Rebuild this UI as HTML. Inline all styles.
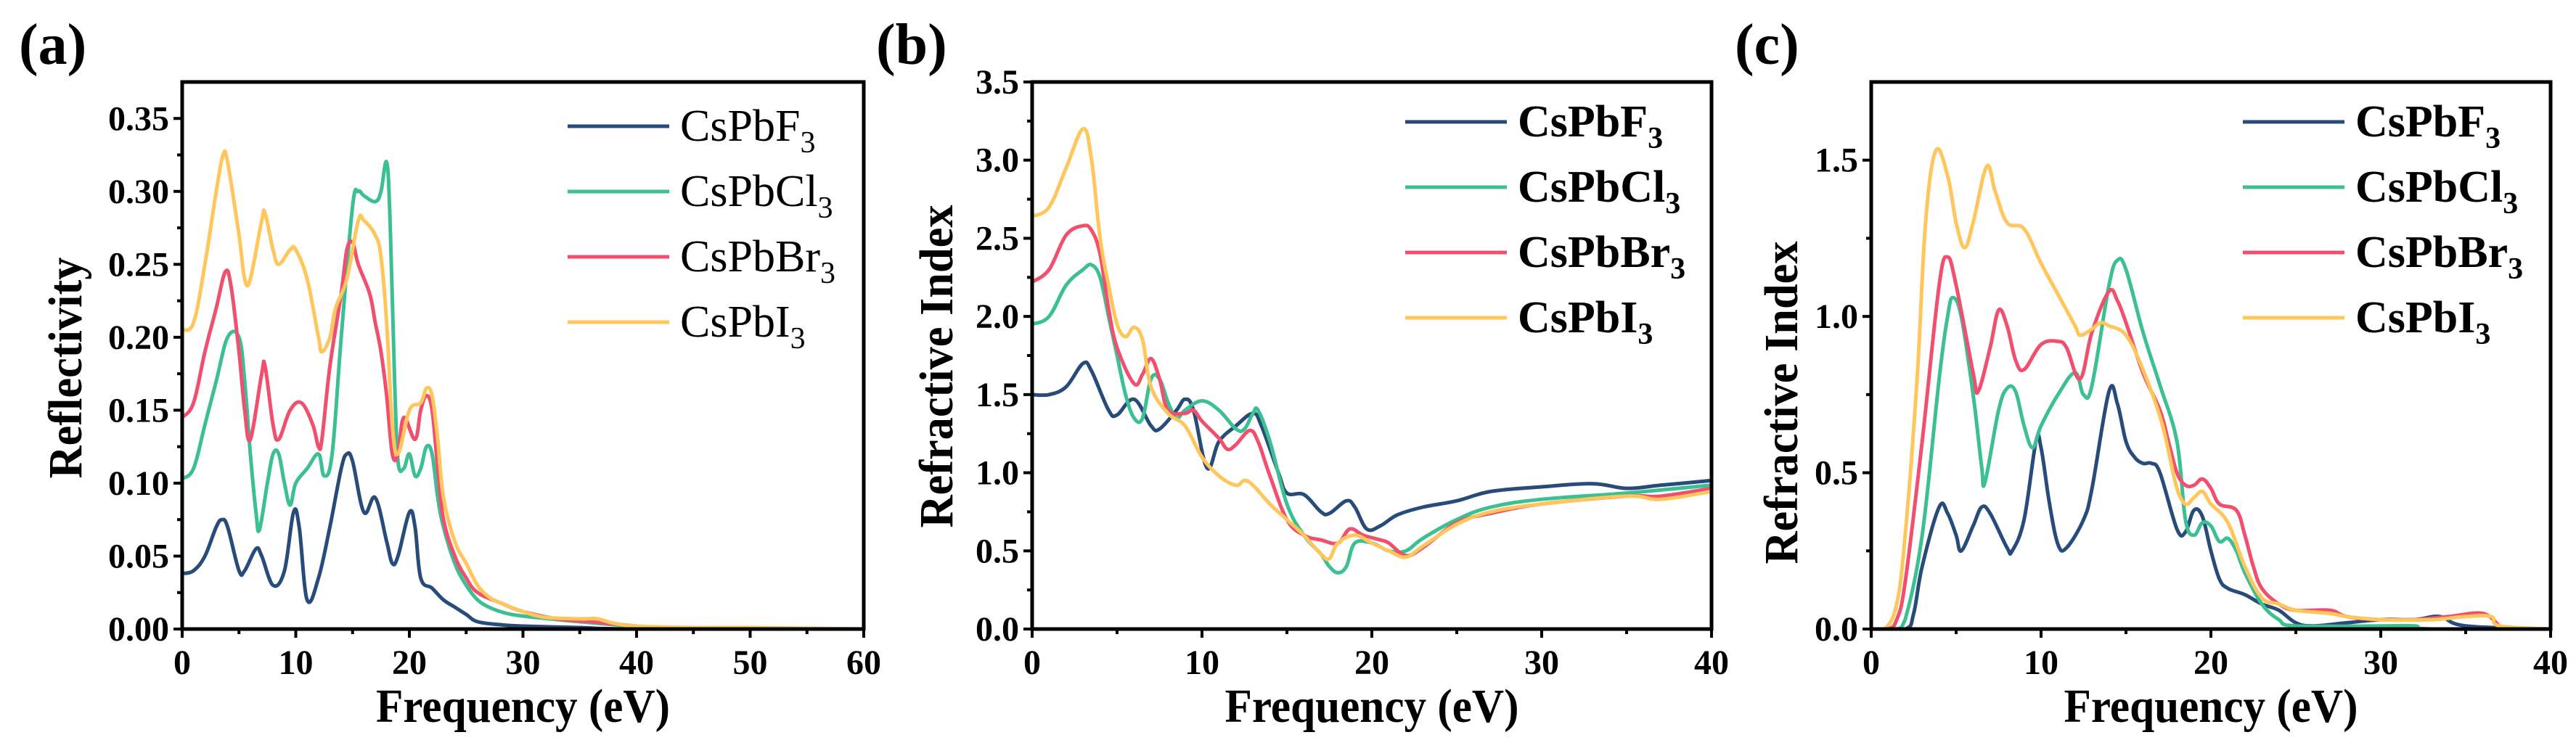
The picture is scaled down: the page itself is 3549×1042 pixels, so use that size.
<!DOCTYPE html>
<html><head><meta charset="utf-8">
<style>
html,body{margin:0;padding:0;background:#fff;overflow:hidden;}
svg{display:block;font-family:"Liberation Serif",serif;}
</style></head>
<body>
<svg id="fig" width="3549" height="1042" viewBox="0 0 3549 1042"></svg>
<script>
const names = ["CsPbF","CsPbCl","CsPbBr","CsPbI"];
const colors = ["#284c7a","#3dbf94","#f0506e","#ffc65c"];

const aX_F=[0,1,2,3,3.5,4,5,5.5,6.5,7,8,9,9.8,10.3,11,12,13,14,14.5,15,16,17,18,18.5,19,20,20.5,21,22,23,24,25,26,28,30,35,40,60];
const aY_F=[0.038,0.04,0.05,0.07,0.075,0.07,0.04,0.04,0.055,0.05,0.03,0.04,0.08,0.07,0.02,0.035,0.07,0.11,0.12,0.115,0.08,0.09,0.06,0.045,0.05,0.08,0.07,0.035,0.028,0.02,0.015,0.01,0.005,0.003,0.002,0.001,0,0];
const aX_Cl=[0,1,2,3,4,5,5.5,6,6.5,6.8,7.5,8,8.5,9,9.5,10,11,12,12.5,13.2,14,15,15.5,16,17,17.5,18,18.3,18.7,19,19.5,20,20.5,21,21.5,22,22.5,23,24,25,26,27,28,29,31,35,38,42,60];
const aY_Cl=[0.103,0.11,0.14,0.17,0.2,0.2,0.17,0.12,0.08,0.068,0.1,0.12,0.12,0.1,0.085,0.1,0.11,0.12,0.105,0.12,0.2,0.29,0.3,0.297,0.293,0.3,0.32,0.28,0.17,0.115,0.11,0.12,0.105,0.11,0.125,0.12,0.09,0.07,0.045,0.03,0.02,0.015,0.012,0.01,0.008,0.005,0.003,0.001,0];
const aX_Br=[0,1,2,3,3.8,4.3,5,5.5,6,7,7.3,8,8.5,9.5,10.5,11.5,12,12.3,13,14,14.5,15,15.5,16.5,17,17.5,18,18.5,19,19.5,20.5,21,21.5,22,22.5,23,24,25,26,28,30,33,36,40,42,60];
const aY_Br=[0.145,0.155,0.19,0.22,0.245,0.235,0.19,0.15,0.13,0.175,0.18,0.14,0.13,0.15,0.155,0.14,0.125,0.13,0.18,0.23,0.26,0.265,0.25,0.23,0.21,0.19,0.16,0.12,0.12,0.145,0.13,0.15,0.16,0.15,0.11,0.075,0.05,0.035,0.025,0.018,0.012,0.007,0.005,0.002,0.001,0];
const aX_I=[0,1,2,3,3.6,4,5,5.5,6,7,7.3,8,8.5,9.5,10,11,12,12.3,13,13.5,14.5,15.5,16,17,17.5,18,18.5,19,20,21,21.5,22,22.5,23,24,25,26,27,28,30,32,35,36.5,38,40,45,50,60];
const aY_I=[0.205,0.21,0.25,0.3,0.325,0.32,0.27,0.24,0.24,0.28,0.285,0.26,0.25,0.26,0.26,0.24,0.2,0.19,0.2,0.22,0.24,0.28,0.28,0.27,0.255,0.21,0.14,0.12,0.15,0.155,0.165,0.16,0.13,0.09,0.06,0.045,0.03,0.022,0.018,0.012,0.008,0.007,0.007,0.004,0.002,0.001,0.001,0];

const bX_F=[0,1,2,3,3.5,4.5,5,6,7,7.5,8.5,9,9.5,10.3,11,12,13,13.5,14.5,15,16,17,17.5,18.5,19,19.7,20.5,21.5,23,25,27,30,33,35,37,40];
const bY_F=[1.5,1.5,1.55,1.7,1.65,1.4,1.37,1.47,1.3,1.28,1.4,1.47,1.4,1.03,1.2,1.3,1.38,1.3,1.0,0.87,0.86,0.75,0.74,0.82,0.78,0.64,0.66,0.73,0.78,0.82,0.88,0.91,0.93,0.9,0.92,0.95];
const bX_Cl=[0,1,2,3,3.5,4,4.5,5,5.5,6,6.5,7,7.5,8,8.5,9,10,11,12,12.5,13,13.3,14,15,16,17,17.5,18,18.5,19,20,21,22,23,25,27,30,35,40];
const bY_Cl=[1.95,2.0,2.2,2.3,2.33,2.25,2.0,1.75,1.5,1.35,1.35,1.6,1.6,1.45,1.35,1.4,1.46,1.4,1.28,1.28,1.38,1.4,1.2,0.8,0.6,0.48,0.4,0.36,0.4,0.55,0.55,0.5,0.5,0.58,0.7,0.78,0.83,0.87,0.92];
const bX_Br=[0,1,2,3,3.5,4,4.5,5,6,6.5,7,7.5,8,9,9.5,10,11,11.5,12,12.8,13.3,14,15,16,17,18,18.7,19.5,20.5,21,22,23,25,27,30,35,37,40];
const bY_Br=[2.22,2.3,2.52,2.58,2.55,2.4,2.05,1.8,1.57,1.63,1.73,1.6,1.4,1.38,1.4,1.33,1.22,1.15,1.18,1.27,1.2,0.98,0.7,0.6,0.57,0.55,0.64,0.6,0.57,0.55,0.47,0.52,0.68,0.74,0.8,0.85,0.85,0.9];
const bX_I=[0,1,2,3,3.5,4,4.5,5,5.5,6,6.5,7,8,9,10,11,12,12.5,13,14,15,16,17,17.5,18,19,20,21,22,23,25,27,30,35,37,40];
const bY_I=[2.64,2.7,2.95,3.2,3.0,2.5,2.2,1.95,1.87,1.93,1.85,1.55,1.38,1.3,1.1,0.98,0.92,0.95,0.92,0.8,0.7,0.6,0.48,0.45,0.55,0.6,0.55,0.5,0.46,0.53,0.67,0.75,0.8,0.85,0.83,0.88];

const cX_F=[0,2,2.5,3,4,4.5,5,5.3,6,6.5,7,8,8.3,9,9.7,10,10.5,11,11.5,12.5,13,14,14.5,15,15.5,16,16.5,17,18,18.5,19,19.5,20,20.5,21,22,23,24,25,26,28,30,32,33.5,35,40];
const cY_F=[0,0,0.05,0.2,0.39,0.37,0.3,0.25,0.33,0.39,0.37,0.26,0.25,0.35,0.6,0.58,0.4,0.27,0.26,0.35,0.45,0.76,0.72,0.6,0.55,0.53,0.53,0.5,0.32,0.31,0.38,0.36,0.25,0.16,0.13,0.11,0.08,0.06,0.02,0.01,0.02,0.03,0.03,0.04,0.01,0];
const cX_Cl=[0,1.5,2,3,4,4.5,4.8,5.3,6,6.5,6.7,7.5,8,8.5,9,9.5,10,11,12,12.5,13,14,14.5,15,16,17,18,18.5,19,19.5,20,20.5,21,21.5,22,23,24,25,30,32,33,40];
const cY_Cl=[0,0,0.03,0.3,0.8,1.0,1.06,1.0,0.75,0.52,0.47,0.7,0.77,0.76,0.65,0.58,0.65,0.75,0.82,0.75,0.78,1.1,1.18,1.15,0.95,0.78,0.6,0.35,0.3,0.34,0.33,0.28,0.29,0.25,0.18,0.08,0.03,0.01,0.01,0.01,0,0];
const cX_Br=[0,1,1.5,2,3,4,4.5,5,6,6.3,7,7.5,8,8.5,9,10,11,11.5,12.3,13,14,14.5,15,16,17,17.5,18,18.5,19,19.5,20,20.5,21.5,22,22.5,23,24,25,27,28,30,32,34,36,37,37.5,40];
const cY_Br=[0,0,0.03,0.15,0.6,1.1,1.19,1.1,0.82,0.76,0.9,1.02,0.97,0.86,0.83,0.91,0.92,0.9,0.8,0.95,1.08,1.05,0.98,0.82,0.7,0.6,0.5,0.46,0.46,0.48,0.45,0.4,0.38,0.3,0.2,0.13,0.08,0.06,0.06,0.04,0.03,0.03,0.04,0.05,0.01,0,0];
const cX_I=[0,0.8,1.5,2,2.7,3.2,3.8,4.5,5,5.5,6,6.8,7.3,8,9,10,11,12,12.3,13,13.5,14,15,16,17,17.5,18,18.5,19,19.5,20,21,22,23,24,25,27,28,30,33,35,36.5,37,40];
const cY_I=[0,0,0.08,0.3,0.8,1.3,1.53,1.45,1.3,1.22,1.3,1.48,1.4,1.3,1.28,1.17,1.07,0.97,0.94,0.96,0.98,0.97,0.94,0.83,0.68,0.57,0.45,0.4,0.42,0.44,0.4,0.34,0.2,0.1,0.08,0.06,0.05,0.04,0.03,0.03,0.04,0.04,0.01,0];

const yTicksA=["0.00","0.05","0.10","0.15","0.20","0.25","0.30","0.35"];
const yTicksB=["0.0","0.5","1.0","1.5","2.0","2.5","3.0","3.5"];
const yTicksC=["0.0","0.5","1.0","1.5"];

const NS="http://www.w3.org/2000/svg";
const svg=document.getElementById('fig');
function mk(tag,attrs,parent){const e=document.createElementNS(NS,tag);for(const k in attrs)e.setAttribute(k,attrs[k]);(parent||svg).appendChild(e);return e;}

function panel(cfg){
  const g=mk('g',{});
  
  
  const L=cfg.l,R=cfg.r,T=113,B=867;
  const sx=v=>L+(v-cfg.xmin)/(cfg.xmax-cfg.xmin)*(R-L);
  const sy=v=>B-(v-cfg.ymin)/(cfg.ymax-cfg.ymin)*(B-T);
  cfg.series.forEach((s,i)=>{
    const pts=s[0].map((x,j)=>[sx(x),sy(s[1][j])]);
    let d='M'+pts[0][0].toFixed(1)+','+pts[0][1].toFixed(1);
    for(let j=0;j<pts.length-1;j++){
      const p0=pts[Math.max(0,j-1)],p1=pts[j],p2=pts[j+1],p3=pts[Math.min(pts.length-1,j+2)];
      const t=0.18;
      let c1y=Math.min(p1[1]+(p2[1]-p0[1])*t,B), c2y=Math.min(p2[1]-(p3[1]-p1[1])*t,B);
      d+=' C'+(p1[0]+(p2[0]-p0[0])*t).toFixed(1)+','+c1y.toFixed(1)+' '+(p2[0]-(p3[0]-p1[0])*t).toFixed(1)+','+c2y.toFixed(1)+' '+p2[0].toFixed(1)+','+p2[1].toFixed(1);
    }
    const p=mk('path',{d:d,fill:'none',stroke:colors[i],'stroke-width':5,'stroke-linejoin':'round'},g);
    
    
  });
  const fr=mk('rect',{x:L,y:T,width:R-L,height:B-T,fill:'none',stroke:'#000','stroke-width':5},g);
  
  
  for(let v=cfg.xmin;v<=cfg.xmax+1e-9;v+=cfg.xminor){
    const major=Math.abs(v/cfg.xmajor-Math.round(v/cfg.xmajor))<1e-6;
    mk('line',{x1:sx(v),x2:sx(v),y1:B,y2:B+(major?12:7),stroke:'#000','stroke-width':4},g);
    if(major){
      const t=mk('text',{x:sx(v),y:B+62,'text-anchor':'middle','font-size':48,'font-weight':'bold'},g);
      t.textContent=String(Math.round(v));
      
      
    }
  }
  const n=cfg.yticks.length;
  for(let k=0;k<n;k++){
    const v=cfg.ymin+k*cfg.ymajor;
    mk('line',{x1:L-12,x2:L,y1:sy(v),y2:sy(v),stroke:'#000','stroke-width':4},g);
    const vm=v+cfg.ymajor/2;
    if(vm<cfg.ymax) mk('line',{x1:L-7,x2:L,y1:sy(vm),y2:sy(vm),stroke:'#000','stroke-width':4},g);
    const t=mk('text',{x:L-18,y:sy(v)+16,'text-anchor':'end','font-size':48,'font-weight':'bold'},g);
    t.textContent=cfg.yticks[k];
    
    
  }
  const xt=mk('text',{x:(L+R)/2,y:B+128,'text-anchor':'middle','font-size':66,'font-weight':'bold',textLength:405,lengthAdjust:'spacingAndGlyphs'},g);
  xt.textContent='Frequency (eV)';
  
  
  const yt=mk('text',{x:0,y:0,'text-anchor':'middle','font-size':66,'font-weight':'bold',textLength:cfg.ytl,lengthAdjust:'spacingAndGlyphs',transform:'translate('+cfg.ytx+','+cfg.yty+') rotate(-90)'},g);
  yt.textContent=cfg.ytitle;
  
  
  const pl=mk('text',{x:cfg.plx,y:88,'font-size':80,'font-weight':'bold'},g);
  pl.textContent=cfg.label;
  
  
  names.forEach((nm,i)=>{
    const y=cfg.legY+i*90;
    const ln=mk('line',{x1:cfg.legX,x2:cfg.legX+140,y1:y,y2:y,stroke:colors[i],'stroke-width':5},g);
    
    
    const t=mk('text',{x:cfg.legX+155,y:y+20,'font-size':62,'font-weight':cfg.legBold?'bold':'normal'},g);
    t.textContent=nm;
    
    
    const sub=mk('tspan',{'font-size':42,dy:16},t);
    sub.textContent='3';
  });
}

panel({id:'panel-a-reflectivity',l:251,r:1190,xmin:0,xmax:60,xmajor:10,xminor:5,ymin:0,ymax:0.375,ymajor:0.05,yticks:yTicksA,ytitle:'Reflectivity',ytl:305,ytx:112,yty:507,label:'(a)',plx:26,legX:782,legY:174,legBold:false,
  series:[[aX_F,aY_F],[aX_Cl,aY_Cl],[aX_Br,aY_Br],[aX_I,aY_I]]});
panel({id:'panel-b-refractive-index',l:1422,r:2358,xmin:0,xmax:40,xmajor:10,xminor:5,ymin:0,ymax:3.5,ymajor:0.5,yticks:yTicksB,ytitle:'Refractive Index',ytl:445,ytx:1312,yty:505,label:'(b)',plx:1207,legX:1936,legY:168,legBold:true,
  series:[[bX_F,bY_F],[bX_Cl,bY_Cl],[bX_Br,bY_Br],[bX_I,bY_I]]});
panel({id:'panel-c-refractive-index',l:2578,r:3514,xmin:0,xmax:40,xmajor:10,xminor:5,ymin:0,ymax:1.75,ymajor:0.5,yticks:yTicksC,ytitle:'Refractive Index',ytl:445,ytx:2476,yty:555,label:'(c)',plx:2390,legX:3090,legY:168,legBold:true,
  series:[[cX_F,cY_F],[cX_Cl,cY_Cl],[cX_Br,cY_Br],[cX_I,cY_I]]});
</script>
</body></html>
